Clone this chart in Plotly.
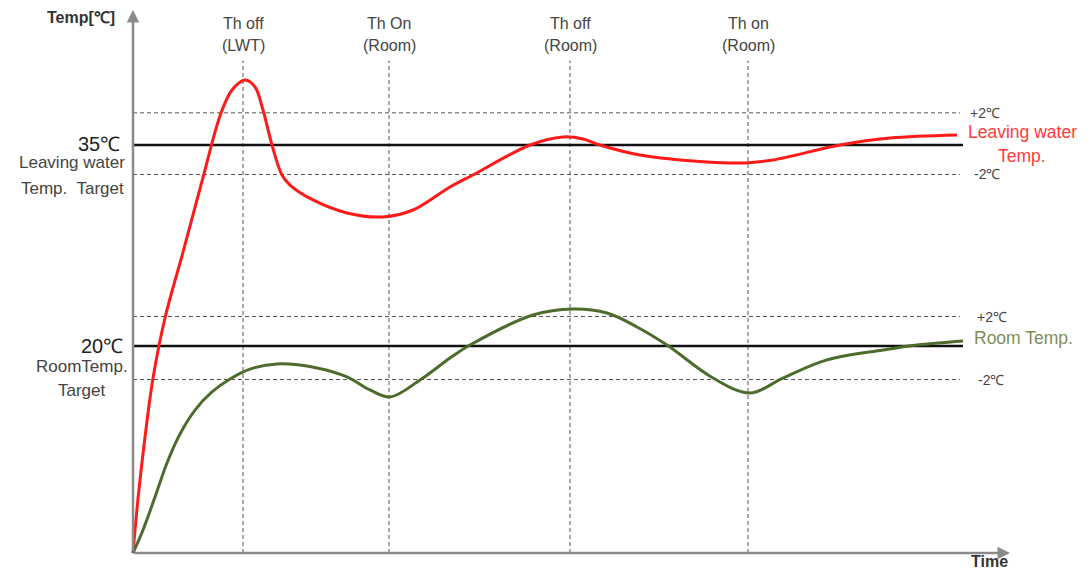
import plotly.graph_objects as go

# Schematic: time in arbitrary units, temperature in degC
time_lwt = [0, 0.5, 1.2, 2.0, 3.2, 5.0, 6.9, 8.8, 9.9, 11.2, 12.2, 13.0, 13.9, 14.9,
            15.7, 18.0, 21.4, 25.0, 28.0, 31.7, 34.0, 39.7, 43.0, 45.0, 46.7, 50.7, 57.4,
            61.2, 64.0, 70.7, 75.7, 82.4]
temp_lwt = [4.55, 8.6, 13.2, 17.6, 22.09, 27.0, 32.3, 37.39, 39.10, 39.85,
            39.33, 37.61, 35.0, 32.76, 32.01, 30.90, 29.93, 29.63, 30.15, 31.87, 32.76, 35.0,
            35.60, 35.45, 35.0, 34.25, 33.73, 33.66, 33.88, 35.0, 35.52, 35.75]

time_room = [0, 1.0, 2.2, 3.4, 4.7, 6.2, 7.9, 9.7, 11.7, 14.4, 18.4, 21.4, 23.7, 25.7, 28.7,
             31.7, 33.7, 40.0, 44.0, 47.4, 50.4, 53.4, 58.0, 61.7, 65.0, 69.4, 75.0, 78.4, 83.0]
temp_room = [4.55, 6.27, 8.73, 11.27, 13.43, 15.22, 16.57, 17.54, 18.28, 18.66, 18.36, 17.69,
             16.72, 16.19, 17.46, 19.10, 20.07, 22.31, 22.76, 22.46, 21.42, 20.07, 17.61, 16.49,
             17.61, 18.96, 19.70, 20.07, 20.37]

lwt_target = 35
room_target = 20
lwt_band = [37.4, 32.8]
room_band = [22.2, 17.5]
band_labels = ["+2℃", "-2℃"]

event_times = [11.0, 25.6, 43.7, 61.5]
event_top = ["Th off", "Th On", "Th off", "Th on"]
event_bottom = ["(LWT)", "(Room)", "(Room)", "(Room)"]

t0, temp0 = 0, 4.55
t_end, line_end = 87.7, 83.0
temp_top = 45.07

FONT = "Liberation Sans, Arial, sans-serif"
GREY = "#444444"

fig = go.Figure()

fig.add_trace(go.Scatter(x=time_lwt, y=temp_lwt, mode="lines", line_shape="spline",
                         line=dict(color="#ff1a1a", width=3), hoverinfo="skip"))
fig.add_trace(go.Scatter(x=time_room, y=temp_room, mode="lines", line_shape="spline",
                         line=dict(color="#4e6b2e", width=3), hoverinfo="skip"))

shapes = []
# dashed +-2 bands
for lvl in lwt_band + room_band:
    shapes.append(dict(type="line", xref="x", yref="y", x0=t0, x1=line_end - 0.3, y0=lvl, y1=lvl,
                       line=dict(color="#555555", width=1, dash="4px,3px"), layer="below"))
# vertical event lines
for t in event_times:
    shapes.append(dict(type="line", xref="x", yref="y", x0=t, x1=t, y0=temp0, y1=41.3,
                       line=dict(color="#555555", width=1, dash="4px,3px"), layer="below"))
# targets
for lvl in [lwt_target, room_target]:
    shapes.append(dict(type="line", xref="x", yref="y", x0=t0, x1=line_end, y0=lvl, y1=lvl,
                       line=dict(color="#111111", width=2.5), layer="below"))

annotations = []
# axes with arrows
annotations.append(dict(x=t0, y=temp_top, ax=t0, ay=temp0, xref="x", yref="y", axref="x", ayref="y",
                        text="", showarrow=True, arrowhead=2, arrowsize=1, arrowwidth=2.5,
                        arrowcolor="#8a8a8a"))
annotations.append(dict(x=t_end, y=temp0, ax=t0, ay=temp0, xref="x", yref="y", axref="x", ayref="y",
                        text="", showarrow=True, arrowhead=2, arrowsize=1, arrowwidth=2.5,
                        arrowcolor="#8a8a8a"))


def label(x, y, text, size=16, color=GREY, xanchor="center", yanchor="middle", bold=False):
    if bold:
        text = "<b>" + text + "</b>"
    annotations.append(dict(x=x, y=y, xref="x", yref="y", text=text, showarrow=False,
                            xanchor=xanchor, yanchor=yanchor,
                            font=dict(family=FONT, size=size, color=color)))


label(-5.2, 44.48, "Temp[℃]", size=16, color="#333333", bold=True)
label(85.6, 3.134, "Time", size=16, color="#333333", yanchor="bottom", bold=True)

for t, top, bottom in zip(event_times, event_top, event_bottom):
    label(t, 44.05, top)
    label(t, 42.4, bottom)

# left target labels
label(-1.1, lwt_target + 0.1, "35℃", size=20, color="#222222", xanchor="right")
label(-6.1, 33.7, "Leaving water", size=17)
label(-6.1, 31.79, "Temp.  Target", size=17)
label(-0.8, room_target, "20℃", size=20, color="#222222", xanchor="right")
label(-5.1, 18.45, "RoomTemp.", size=17)
label(-5.1, 16.67, "Target", size=17)

# right band labels
label(83.5, lwt_band[0], band_labels[0], size=14, xanchor="left")
label(83.9, lwt_band[1], band_labels[1], size=14, xanchor="left")
label(84.2, room_band[0], band_labels[0], size=14, xanchor="left")
label(84.3, room_band[1], band_labels[1], size=14, xanchor="left")
label(88.9, 35.95, "Leaving water", size=17.5, color="#ff3b3b")
label(88.9, 34.18, "Temp.", size=17.5, color="#ff3b3b")
label(83.9, 20.6, "Room Temp.", size=17.5, color="#7d8f55", xanchor="left")

fig.update_layout(
    width=1075, height=564,
    margin=dict(l=0, r=0, t=0, b=0),
    plot_bgcolor="white", paper_bgcolor="white",
    showlegend=False,
    xaxis=dict(range=[-12.5, 95.0], visible=False, fixedrange=True),
    yaxis=dict(range=[3.134, 45.224], visible=False, fixedrange=True),
    shapes=shapes,
    annotations=annotations,
)

fig.write_html("out.html")
